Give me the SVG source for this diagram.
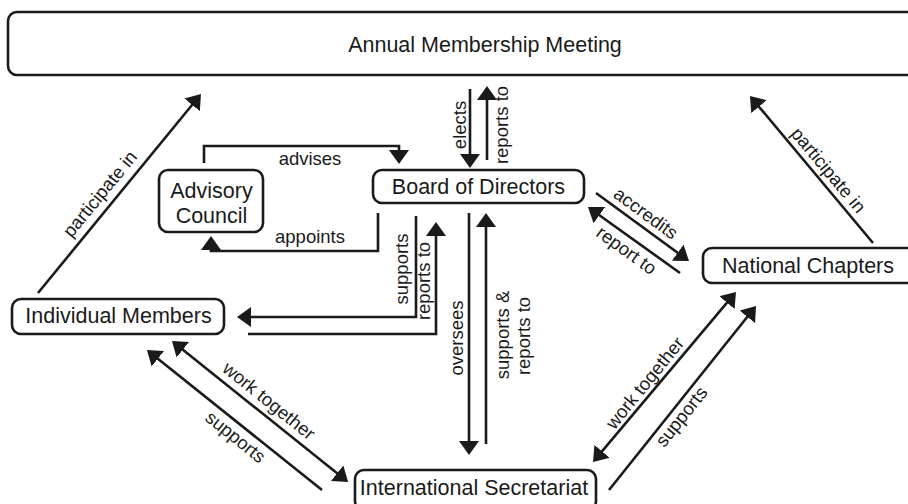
<svg xmlns="http://www.w3.org/2000/svg" width="908" height="504" viewBox="0 0 908 504">
<defs>
<marker id="ah" viewBox="0 0 14 20" markerWidth="14" markerHeight="20" refX="6" refY="10" orient="auto-start-reverse" markerUnits="userSpaceOnUse">
<path d="M0,0 L14,10 L0,20 Z" fill="#1a1a1a"/>
</marker>
<style>
.box{fill:#fff;stroke:#1a1a1a;stroke-width:2.6}
.nt{font-family:"Liberation Sans",Arial,sans-serif;font-size:21.5px;fill:#1a1a1a;text-anchor:middle}
.lb{font-family:"Liberation Sans",Arial,sans-serif;font-size:18.5px;fill:#1a1a1a;text-anchor:middle}
.ln{fill:none;stroke:#1a1a1a;stroke-width:2.6}
.ar{marker-end:url(#ah)}
.dbl{marker-start:url(#ah);marker-end:url(#ah)}
</style>
</defs>
<rect width="908" height="504" fill="#fff"/>

<g id="connectors">
<line class="ln ar" x1="38" y1="293" x2="195.9" y2="100.2"/>
<line class="ln ar" x1="873" y1="243" x2="755.1" y2="102.1"/>
<line class="ln ar" x1="470" y1="89" x2="470" y2="160"/>
<line class="ln ar" x1="487" y1="160" x2="487" y2="94"/>
<path class="ln ar" d="M204,163 V146 H399 V156"/>
<path class="ln ar" d="M378,213 V251 H211 V244"/>
<path class="ln ar" d="M416,216 V317 H245"/>
<path class="ln ar" d="M248,334 H436 V230"/>
<line class="ln ar" x1="469" y1="213" x2="469" y2="447"/>
<line class="ln ar" x1="486" y1="444" x2="486" y2="221"/>
<line class="ln ar" x1="596" y1="193" x2="682.5" y2="256.3"/>
<line class="ln ar" x1="680" y1="273" x2="594.5" y2="211.7"/>
<line class="ln dbl" x1="178.2" y1="346" x2="341.8" y2="477"/>
<line class="ln ar" x1="322" y1="490" x2="153.2" y2="355"/>
<line class="ln dbl" x1="598.2" y1="455.9" x2="730.8" y2="298.1"/>
<line class="ln ar" x1="609" y1="490" x2="751" y2="312.2"/>

<text class="lb" transform="translate(111,203) rotate(-50.7)" y="-8">participate in</text>
<text class="lb" transform="translate(819,178) rotate(50.1)" y="-6">participate in</text>
<text class="lb" transform="translate(466,125) rotate(-90)">elects</text>
<text class="lb" transform="translate(508,125) rotate(-90)">reports to</text>
<text class="lb" x="310" y="165">advises</text>
<text class="lb" x="310" y="243">appoints</text>
<text class="lb" transform="translate(408,269) rotate(-90)">supports</text>
<text class="lb" transform="translate(430,281) rotate(-90)">reports to</text>
<text class="lb" transform="translate(463,338) rotate(-90)">oversees</text>
<text class="lb" transform="translate(508.5,335) rotate(-90)">supports &amp;</text>
<text class="lb" transform="translate(530,336) rotate(-90)">reports to</text>
<text class="lb" transform="translate(638,224) rotate(36.2)" y="-7">accredits</text>
<text class="lb" transform="translate(634,240) rotate(35.7)" y="19">report to</text>
<text class="lb" transform="translate(260,412) rotate(38.7)" y="-8">work together</text>
<text class="lb" transform="translate(243.5,427) rotate(38.7)" y="19">supports</text>
<text class="lb" transform="translate(656,392) rotate(-50.9)" y="-8">work together</text>
<text class="lb" transform="translate(673,410) rotate(-51.4)" y="17">supports</text>
</g>

<g id="annual">
<rect class="box" x="8" y="12" width="940" height="63" rx="9"/>
<text class="nt" x="485" y="51.5">Annual Membership Meeting</text>
</g>
<g id="board">
<rect class="box" x="373" y="170" width="211" height="33" rx="9"/>
<text class="nt" x="478.5" y="193.5">Board of Directors</text>
</g>
<g id="advisory">
<rect class="box" x="159" y="170" width="104" height="62" rx="9"/>
<text class="nt" x="211.5" y="198">Advisory</text>
<text class="nt" x="211.5" y="223">Council</text>
</g>
<g id="individual">
<rect class="box" x="12" y="299" width="212" height="35" rx="9"/>
<text class="nt" x="118.5" y="322.7">Individual Members</text>
</g>
<g id="national">
<rect class="box" x="703" y="248" width="240" height="35" rx="9"/>
<text class="nt" x="808" y="272.7">National Chapters</text>
</g>
<g id="secretariat">
<rect class="box" x="355" y="470" width="241" height="40" rx="9"/>
<text class="nt" x="474" y="495">International Secretariat</text>
</g>
</svg>
